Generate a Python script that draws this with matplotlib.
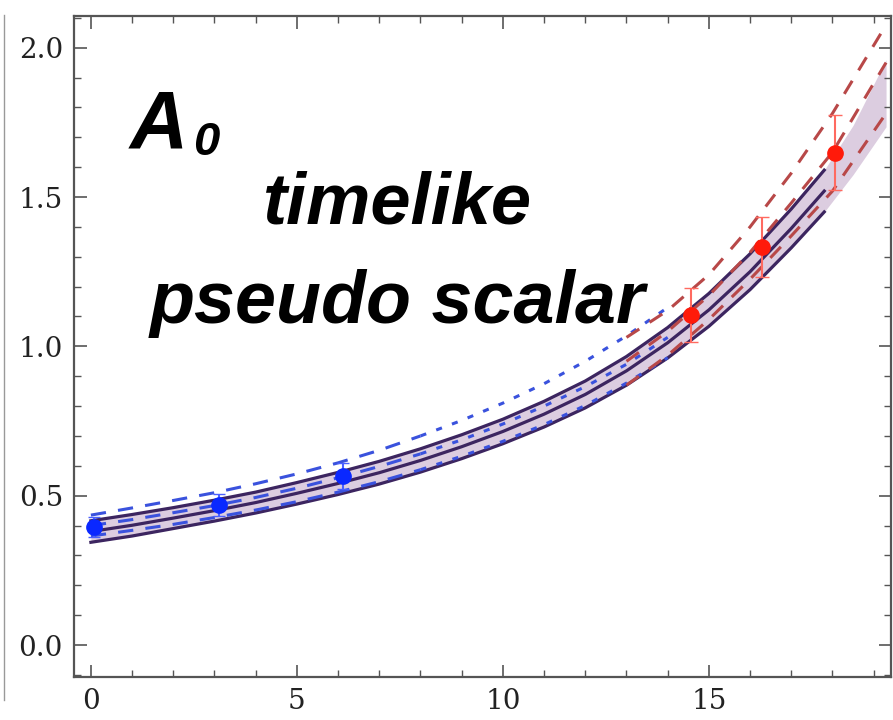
import matplotlib
matplotlib.use("Agg")
import matplotlib.pyplot as plt
from matplotlib.lines import Line2D
from matplotlib.ticker import MultipleLocator, FormatStrFormatter

# lattice points (blue) and the other set (red)
x_blue = [0.07, 3.1, 6.12]
y_blue = [0.395, 0.469, 0.566]
e_blue = [0.033, 0.036, 0.043]

x_red = [14.56, 16.3, 18.07]
y_red = [1.105, 1.333, 1.648]
e_red = [0.092, 0.10, 0.126]

# combined band
x_band = [0, 1, 2, 3, 4, 5, 6, 7, 8, 9, 10, 11, 12, 13, 14, 15, 16, 17, 17.8,
          18.5, 19.3]
band_mid = [0.38, 0.401, 0.425, 0.45, 0.477, 0.508, 0.541, 0.577, 0.618, 0.664,
            0.715, 0.773, 0.839, 0.918, 1.012, 1.122, 1.25, 1.395, 1.52,
            1.655, 1.85]
band_hi = [0.416, 0.437, 0.46, 0.485, 0.512, 0.544, 0.578, 0.615, 0.657, 0.704,
           0.756, 0.816, 0.884, 0.966, 1.063, 1.177, 1.31, 1.46, 1.59,
           1.74, 1.96]
band_lo = [0.344, 0.365, 0.39, 0.415, 0.442, 0.472, 0.504, 0.539, 0.579, 0.624,
           0.674, 0.73, 0.794, 0.87, 0.961, 1.067, 1.19, 1.33, 1.45,
           1.575, 1.735]
n_solid = 19  # solid edges stop at x = 17.8

# fit to the blue points
x_bfit = [0, 1, 2, 3, 4, 5, 6, 7, 8, 9, 10, 11, 12, 13, 14]
bfit_hi = [0.435, 0.459, 0.484, 0.51, 0.54, 0.573, 0.61, 0.652, 0.70, 0.752,
           0.81, 0.875, 0.95, 1.035, 1.13]
bfit_mid = [0.40, 0.42, 0.443, 0.467, 0.494, 0.525, 0.56, 0.598, 0.64, 0.687,
            0.74, 0.80, 0.865, 0.94, 1.03]
bfit_lo = [0.365, 0.384, 0.404, 0.427, 0.452, 0.48, 0.512, 0.547, 0.587, 0.632,
           0.682, 0.738, 0.802, 0.877, 0.962]
n_bdash = 8  # dashed up to x = 8, dotted beyond

# fit to the red points
x_rfit = [13, 14, 15, 16, 17, 18, 19.3]
rfit_hi = [1.03, 1.12, 1.24, 1.40, 1.58, 1.78, 2.076]
rfit_mid = [0.95, 1.05, 1.17, 1.315, 1.48, 1.65, 1.95]
rfit_lo = [0.87, 0.97, 1.09, 1.225, 1.37, 1.52, 1.78]

W, H = 893, 720
fig = plt.figure(figsize=(W / 100, H / 100), dpi=100)
ax = fig.add_axes([74 / W, (H - 676.7) / H, (891 - 74) / W, (676.7 - 15.7) / H])

band_fill = "#dccde0"
band_line = "#3c2560"
blue_line = "#3a52dd"
red_line = "#b84848"

ax.fill_between(x_band, band_lo, band_hi, color=band_fill, lw=0, zorder=1)
for yy in (band_hi, band_mid, band_lo):
    ax.plot(x_band[:n_solid], yy[:n_solid], color=band_line, lw=2.3, zorder=2)

for yy in (bfit_hi, bfit_mid, bfit_lo):
    ax.plot(x_bfit[:n_bdash + 1], yy[:n_bdash + 1], color=blue_line, lw=2.2,
            dashes=(5, 4), zorder=3)
    ax.plot(x_bfit[n_bdash:], yy[n_bdash:], color=blue_line, lw=2.2,
            dashes=(2, 3.5), zorder=3)

for yy in (rfit_hi, rfit_mid, rfit_lo):
    ax.plot(x_rfit, yy, color=red_line, lw=2.2, dashes=(5, 4), zorder=3)

ax.errorbar(x_blue, y_blue, yerr=e_blue, fmt="o", color="#0a28ff", ms=11,
            ecolor="#4a60ff", elinewidth=1.5, capsize=4, zorder=5)
ax.errorbar(x_red, y_red, yerr=e_red, fmt="o", color="#ff1a0a", ms=11,
            ecolor="#ff6a60", elinewidth=1.5, capsize=5, zorder=5)

ax.set_xlim(-0.41, 19.42)
ax.set_ylim(-0.106, 2.107)
ax.xaxis.set_major_locator(MultipleLocator(5))
ax.xaxis.set_minor_locator(MultipleLocator(1))
ax.yaxis.set_major_locator(MultipleLocator(0.5))
ax.yaxis.set_minor_locator(MultipleLocator(0.1))
ax.yaxis.set_major_formatter(FormatStrFormatter("%.1f"))
ax.tick_params(which="both", direction="in", top=True, right=True,
               color="#555555", labelsize=20, labelcolor="#222222")
ax.tick_params(which="major", length=9, width=1.2, pad=8)
ax.tick_params(which="minor", length=5, width=1.0)
for lab in ax.get_xticklabels() + ax.get_yticklabels():
    lab.set_family("DejaVu Serif")
for sp in ax.spines.values():
    sp.set_color("#555555")
    sp.set_linewidth(1.6)

# labels inside the plot
def fx(px):
    return px / W

def fy(py):
    return (H - py) / H

sans = "Liberation Sans"
fig.text(fx(130), fy(147), "A", family=sans, weight="bold", style="italic",
         fontsize=58, va="baseline", ha="left")
fig.text(fx(193), fy(155), "0", family=sans, weight="bold", style="italic",
         fontsize=34, va="baseline", ha="left")
fig.text(fx(263), fy(223), "timelike", family=sans, weight="bold",
         style="italic", fontsize=52, va="baseline", ha="left")
fig.text(fx(150), fy(323), "pseudo scalar", family=sans, weight="bold",
         style="italic", fontsize=53, va="baseline", ha="left")

# thin edge line from the neighbouring panel
fig.add_artist(Line2D([4 / W, 4 / W], [fy(700), fy(15)], color="#999999", lw=1.0))

plt.savefig("out.png", dpi=100)
